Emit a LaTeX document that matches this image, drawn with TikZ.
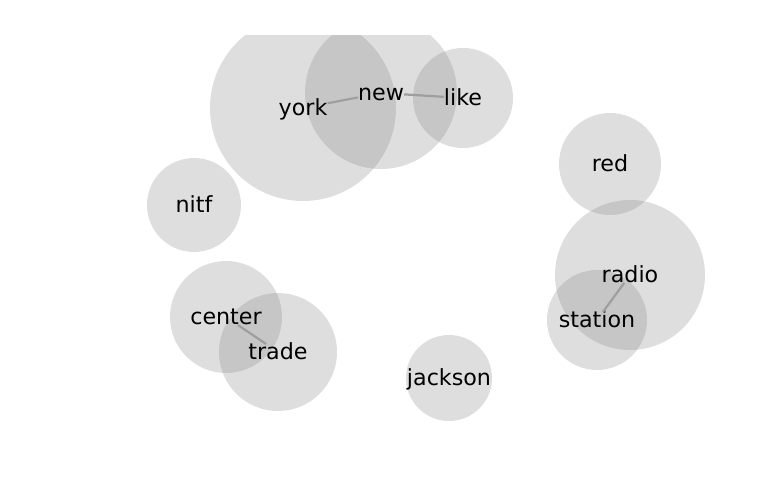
\documentclass[tikz,border=0pt]{standalone}
\usepackage{fontspec}
\setmainfont{DejaVu Sans}
\begin{document}
\begin{tikzpicture}[x=1pt,y=1pt,
  bubble/.style={fill=gray,fill opacity=0.26,draw=none},
  word/.style={inner sep=0pt,text height=15.5pt,text depth=0pt,font=\fontsize{22.2}{26}\selectfont,text=black},
  link/.style={draw=black!38,line width=2.2pt}]
\useasboundingbox (0,0) rectangle (768,500);
\begin{scope}
\clip (0,0) rectangle (768,464);
% circles (pixel coords, y flipped)
\fill[bubble] (303,392) circle (93);
\fill[bubble] (381,407) circle (76);
\fill[bubble] (463,402) circle (50);
\fill[bubble] (610,336) circle (51);
\fill[bubble] (630,225) circle (75);
\fill[bubble] (597,180) circle (50);
\fill[bubble] (194,295) circle (47);
\fill[bubble] (226,183) circle (56);
\fill[bubble] (278,148) circle (59);
\fill[bubble] (449,122) circle (43);
\end{scope}
% labels
\node[word] (york) at (303,392) {york};
\node[word] (new) at (381,407) {new};
\node[word] (like) at (463,402) {like};
\node[word] (red) at (610,336) {red};
\node[word] (radio) at (630,225) {radio};
\node[word] (station) at (597,180) {station};
\node[word] (nitf) at (194,295) {nitf};
\node[word] (center) at (226,183) {center};
\node[word] (trade) at (278,148) {trade};
\node[word] (jackson) at (449,122) {jackson};
% links
\draw[link] (york) -- (new);
\draw[link] (new) -- (like);
\draw[link] (radio) -- (station);
\draw[link] (center) -- (trade);
\end{tikzpicture}
\end{document}
